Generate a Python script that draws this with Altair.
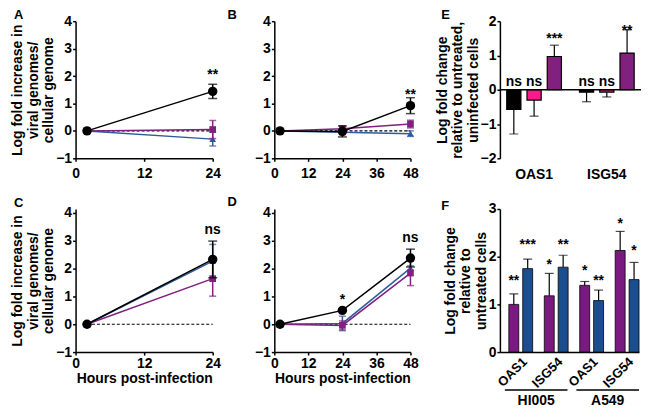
import altair as alt
import pandas as pd

FONT = "Liberation Sans"
C_BLACK = "#000000"
C_PURPLE = "#80207F"
C_BLUE = "#2D5C9E"
C_PINK = "#FF1A8C"
C_FPURPLE = "#7A1A80"
C_FBLUE = "#1B4E8E"

# ---------------- Panels A-D (viral genomes) ----------------
a_hours = [2, 24]
a_black = [0, 1.44]
a_black_err = [0, 0.26]
a_purple = [0, 0.05]
a_purple_err = [0, 0.33]
a_blue = [0, -0.30]
a_blue_err = [0, 0.25]
a_sig_hour = [24]
a_sig_text = ["**"]
a_sig_y = [1.89]

b_hours = [2, 24, 48]
b_black = [0, -0.02, 0.92]
b_black_err = [0, 0.20, 0.29]
b_purple = [0, 0.08, 0.25]
b_purple_err = [0, 0.10, 0.14]
b_blue = [0, -0.05, -0.10]
b_blue_err = [0, 0.08, 0.10]
b_sig_hour = [48]
b_sig_text = ["**"]
b_sig_y = [1.17]

c_hours = [2, 24]
c_black = [0, 2.33]
c_black_err = [0, 0.66]
c_purple = [0, 1.64]
c_purple_err = [0, 0.63]
c_blue = [0, 2.27]
c_blue_err = [0, 0.60]
c_sig_hour = [24]
c_sig_text = ["ns"]
c_sig_y = [3.24]

d_hours = [2, 24, 48]
d_black = [0, 0.50, 2.38]
d_black_err = [0, 0.04, 0.32]
d_purple = [0, -0.04, 1.84]
d_purple_err = [0, 0.16, 0.45]
d_blue = [0, 0.03, 2.02]
d_blue_err = [0, 0.26, 0.08]
d_sig_hour = [24, 48]
d_sig_text = ["*", "ns"]
d_sig_y = [0.74, 2.95]

ab_ytitle = ["Log fold increase in", "viral genomes/", "cellular genome"]
cd_xtitle = "Hours post-infection"

# ---------------- Panel E ----------------
e_genes = ["OAS1", "ISG54"]
e_treat = ["black", "pink", "purple"]
e_colors = [C_BLACK, C_PINK, C_PURPLE]
e_oas1 = [-0.57, -0.30, 0.97]
e_oas1_err = [0.72, 0.47, 0.33]
e_isg54 = [-0.07, -0.07, 1.07]
e_isg54_err = [0.28, 0.14, 0.68]
e_oas1_sig = ["ns", "ns", "***"]
e_isg54_sig = ["ns", "ns", "**"]
e_oas1_sig_y = [0.10, 0.10, 1.37]
e_isg54_sig_y = [0.10, 0.10, 1.59]
e_ytitle = ["Log fold change", "relative to untreated,", "uninfected cells"]

# ---------------- Panel F ----------------
f_combos = ["HI005 OAS1", "HI005 ISG54", "A549 OAS1", "A549 ISG54"]
f_series = ["fpurple", "fblue"]
f_colors = [C_FPURPLE, C_FBLUE]
f_purple = [1.00, 1.18, 1.40, 2.13]
f_purple_err = [0.22, 0.47, 0.08, 0.40]
f_blue = [1.75, 1.78, 1.08, 1.52]
f_blue_err = [0.20, 0.25, 0.22, 0.36]
f_purple_sig = ["**", "*", "*", "*"]
f_purple_sig_y = [1.41, 1.75, 1.61, 2.60]
f_blue_sig = ["***", "**", "**", "*"]
f_blue_sig_y = [2.17, 2.17, 1.41, 2.03]
f_cells = ["HI005", "A549"]
f_cell_line_y = [-0.78, -0.81]
f_cell_text_y = -1.11
f_ytitle = ["Log fold change", "relative to", "untreated cells"]


def letter_layer(letter, dx, dy):
    return alt.Chart(pd.DataFrame({"letter": [letter]})).mark_text(
        fontSize=13, fontWeight="bold", align="left", baseline="alphabetic",
        color="black", font=FONT
    ).encode(x=alt.value(dx), y=alt.value(dy), text="letter:N")


def line_panel(hours, series, sig, xmax, xticks, width, height, ydomain,
               ytitle, xtitle, xlabpad, letter, ldx, ldy):
    xenc = alt.X("hour:Q", scale=alt.Scale(domain=[0, xmax], nice=False, zero=False),
                 axis=alt.Axis(values=xticks, title=xtitle, labelFlush=False,
                               tickSize=3, labelPadding=xlabpad, titlePadding=2,
                               titleFontSize=14))
    yaxis = alt.Axis(values=[-1, 0, 1, 2, 3, 4], title=ytitle, tickSize=3,
                     labelPadding=1, titlePadding=0)
    yscale = alt.Scale(domain=ydomain, nice=False, zero=False)

    def Y(f):
        return alt.Y(f"{f}:Q", scale=yscale, axis=yaxis)

    layers = []
    base = pd.DataFrame({"hour": [2, xmax], "value": [0, 0]})
    layers.append(alt.Chart(base).mark_line(color="black", strokeDash=[3, 2],
                                            strokeWidth=1.2).encode(x=xenc, y=Y("value")))
    for vals, errs, color, shape, size, cap in series:
        df = pd.DataFrame({
            "hour": hours, "value": vals, "err": errs,
            "lo": [v - e for v, e in zip(vals, errs)],
            "hi": [v + e for v, e in zip(vals, errs)],
        })
        dfe = df[df["err"] > 0]
        layers.append(alt.Chart(df).mark_line(color=color, strokeWidth=1.5)
                      .encode(x=xenc, y=Y("value")))
        layers.append(alt.Chart(dfe).mark_rule(color=color, strokeWidth=1.5)
                      .encode(x=xenc, y=Y("lo"), y2="hi:Q"))
        layers.append(alt.Chart(dfe).mark_tick(color=color, orient="horizontal",
                                               size=cap, thickness=1.5)
                      .encode(x=xenc, y=Y("lo")))
        layers.append(alt.Chart(dfe).mark_tick(color=color, orient="horizontal",
                                               size=cap, thickness=1.5)
                      .encode(x=xenc, y=Y("hi")))
        layers.append(alt.Chart(df).mark_point(filled=True, opacity=1, shape=shape,
                                               size=size, color=color)
                      .encode(x=xenc, y=Y("value")))
    sdf = pd.DataFrame({"hour": sig[0], "label": sig[1], "pos": sig[2]})
    layers.append(alt.Chart(sdf).mark_text(fontSize=14, fontWeight="bold",
                                           baseline="alphabetic", color="black")
                  .encode(x=xenc, y=Y("pos"), text="label:N"))
    layers.append(letter_layer(letter, ldx, ldy))
    return alt.layer(*layers).properties(width=width, height=height)


def ser(black, black_err, purple, purple_err, blue, blue_err):
    return [
        (blue, blue_err, C_BLUE, "triangle-up", 45, 7),
        (purple, purple_err, C_PURPLE, "square", 45, 7),
        (black, black_err, C_BLACK, "circle", 90, 9),
    ]


row1_h = 138
row2_h = 144
cd_top = 4 + 5 * 4 / 140.0

A = line_panel(a_hours, ser(a_black, a_black_err, a_purple, a_purple_err, a_blue, a_blue_err),
               (a_sig_hour, a_sig_text, a_sig_y), 24, [0, 12, 24], 138, row1_h, [-1, 4],
               ab_ytitle, None, 5, "A", -62, -2)
B = line_panel(b_hours, ser(b_black, b_black_err, b_purple, b_purple_err, b_blue, b_blue_err),
               (b_sig_hour, b_sig_text, b_sig_y), 48, [0, 12, 24, 36, 48], 137, row1_h, [-1, 4],
               None, None, 5, "B", -47, -2)
C = line_panel(c_hours, ser(c_black, c_black_err, c_purple, c_purple_err, c_blue, c_blue_err),
               (c_sig_hour, c_sig_text, c_sig_y), 24, [0, 12, 24], 138, row2_h, [-1, cd_top],
               ab_ytitle, cd_xtitle, 1, "C", -62, -2)
D = line_panel(d_hours, ser(d_black, d_black_err, d_purple, d_purple_err, d_blue, d_blue_err),
               (d_sig_hour, d_sig_text, d_sig_y), 48, [0, 12, 24, 36, 48], 137, row2_h, [-1, cd_top],
               None, cd_xtitle, 1, "D", -47, -3)

# ---- E ----
e_rows = []
for gene, vals, errs, sigs, sigy in [("OAS1", e_oas1, e_oas1_err, e_oas1_sig, e_oas1_sig_y),
                                     ("ISG54", e_isg54, e_isg54_err, e_isg54_sig, e_isg54_sig_y)]:
    for t, v, e, s, sy in zip(e_treat, vals, errs, sigs, sigy):
        e_rows.append({"gene": gene, "treat": t, "value": v,
                       "end": v + e if v >= 0 else v - e, "sig": s, "sig_y": sy})
edf = pd.DataFrame(e_rows)

xE = alt.X("gene:N", sort=e_genes,
           scale=alt.Scale(domain=e_genes, paddingInner=0.248, paddingOuter=0.094),
           axis=alt.Axis(title=None, domain=False, ticks=False, labelAngle=0, labelPadding=9))
xoE = alt.XOffset("treat:N", sort=e_treat,
                  scale=alt.Scale(domain=e_treat, paddingInner=0.3, paddingOuter=0))
yE_axis = alt.Axis(values=[-2, -1, 0, 1, 2], title=e_ytitle, tickSize=3, labelPadding=1,
                   titlePadding=0)
yE_scale = alt.Scale(domain=[-2, 2], nice=False)


def YE(f):
    return alt.Y(f"{f}:Q", scale=yE_scale, axis=yE_axis)


E = alt.layer(
    alt.Chart(edf).mark_bar(stroke="black", strokeWidth=1.2).encode(
        x=xE, xOffset=xoE, y=YE("value"),
        color=alt.Color("treat:N", scale=alt.Scale(domain=e_treat, range=e_colors), legend=None)),
    alt.Chart(edf).mark_rule(color="black", strokeWidth=1.2).encode(
        x=xE, xOffset=xoE, y=YE("value"), y2="end:Q"),
    alt.Chart(edf).mark_tick(color="black", size=9, thickness=1.2).encode(
        x=xE, xOffset=xoE, y=YE("end")),
    alt.Chart(pd.DataFrame({"z": [0]})).mark_rule(color="black", strokeWidth=1.5).encode(
        y=YE("z")),
    alt.Chart(edf).mark_text(fontSize=14, fontWeight="bold", baseline="alphabetic",
                             color="black").encode(
        x=xE, xOffset=xoE, y=YE("sig_y"), text="sig:N"),
    letter_layer("E", -59, -2),
).properties(width=142, height=row1_h)

# ---- F ----
f_rows = []
for s, vals, errs, sigs, sigy in [("fpurple", f_purple, f_purple_err, f_purple_sig, f_purple_sig_y),
                                  ("fblue", f_blue, f_blue_err, f_blue_sig, f_blue_sig_y)]:
    for c, v, e, sg, sy in zip(f_combos, vals, errs, sigs, sigy):
        f_rows.append({"combo": c, "series": s, "value": v, "end": v + e, "sig": sg, "sig_y": sy})
fdf = pd.DataFrame(f_rows)

xF = alt.X("combo:N", sort=f_combos,
           scale=alt.Scale(domain=f_combos, paddingInner=0.328, paddingOuter=0.126, align=1),
           axis=alt.Axis(title=None, ticks=False, labelAngle=-45, labelPadding=3,
                         labelFontSize=13, labelExpr="split(datum.label, ' ')[1]"))
xoF = alt.XOffset("series:N", sort=f_series,
                  scale=alt.Scale(domain=f_series, paddingInner=0.286, paddingOuter=0))
yF_axis = alt.Axis(values=[0, 1, 2, 3], title=f_ytitle, tickSize=3, labelPadding=1,
                   titlePadding=0)
yF_scale = alt.Scale(domain=[0, 3], nice=False)


def YF(f):
    return alt.Y(f"{f}:Q", scale=yF_scale, axis=yF_axis)


f_main = alt.layer(
    alt.Chart(fdf).mark_bar(stroke="black", strokeWidth=0.8).encode(
        x=xF, xOffset=xoF, y=YF("value"),
        color=alt.Color("series:N", scale=alt.Scale(domain=f_series, range=f_colors), legend=None)),
    alt.Chart(fdf).mark_rule(color="black", strokeWidth=1.2).encode(
        x=xF, xOffset=xoF, y=YF("value"), y2="end:Q"),
    alt.Chart(fdf).mark_tick(color="black", size=9, thickness=1.2).encode(
        x=xF, xOffset=xoF, y=YF("end")),
    alt.Chart(fdf).mark_text(fontSize=14, fontWeight="bold", baseline="alphabetic",
                             color="black").encode(
        x=xF, xOffset=xoF, y=YF("sig_y"), text="sig:N"),
    letter_layer("F", -59, 1),
)

cdf = pd.DataFrame({"cell": f_cells, "ly1": [f_cell_line_y[0]] * 2,
                    "ly2": [f_cell_line_y[1]] * 2, "ty": [f_cell_text_y] * 2})
xC = alt.X("cell:N", sort=f_cells,
           scale=alt.Scale(domain=f_cells, paddingInner=0.125, paddingOuter=0.0347, align=1),
           axis=None)
f_groups = alt.layer(
    alt.Chart(cdf).mark_bar(color="black").encode(x=xC, y=YF("ly1"), y2="ly2:Q"),
    alt.Chart(cdf).mark_text(fontSize=14, fontWeight="bold", baseline="alphabetic",
                             color="black").encode(x=xC, y=YF("ty"), text="cell:N"),
)
F = alt.layer(f_main, f_groups).resolve_scale(x="independent").properties(
    width=140, height=row2_h)


def spacer(w):
    return alt.Chart(pd.DataFrame({"s": [0]})).mark_point(opacity=0).encode(
        x=alt.X("s:Q", axis=None), y=alt.Y("s:Q", axis=None)
    ).properties(width=w, height=1)


chart = alt.concat(
    A, spacer(62), B, spacer(90), E,
    C, spacer(62), D, spacer(90), F,
    columns=5, spacing={"row": 51, "column": 0}, bounds="flush", align="each",
).resolve_scale(color="independent", xOffset="independent").properties(
    padding={"left": 3, "top": 0, "right": 0, "bottom": 0}
).configure(font=FONT).configure_view(stroke=None).configure_axis(
    labelFont=FONT, titleFont=FONT, labelFontWeight="bold", titleFontWeight="bold",
    labelFontSize=14, titleFontSize=14, titleLineHeight=15.5, labelColor="black",
    titleColor="black", domainColor="black", tickColor="black", domainWidth=1.5,
    tickWidth=1.5, grid=False
).configure_text(font=FONT)

chart.save("out.html", embed_options={"renderer": "svg", "actions": False})
